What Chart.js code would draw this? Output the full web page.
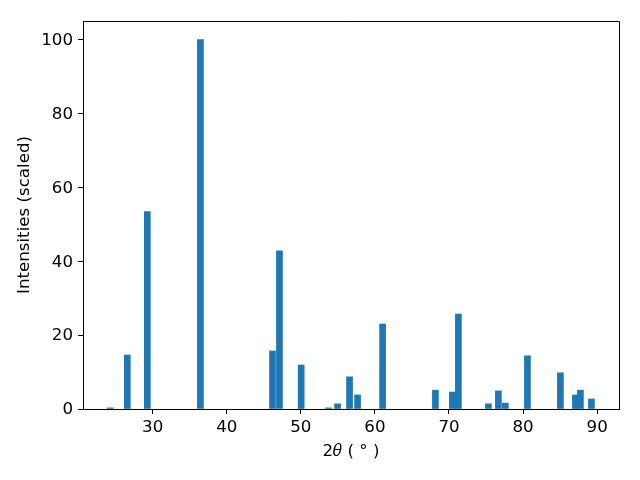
<!DOCTYPE html>
<html>
<head>
<meta charset="utf-8">
<script src="https://cdn.jsdelivr.net/npm/chart.js@4"></script>
<style>
  html, body { margin: 0; padding: 0; background: #fff; }
  #wrap { width: 640px; height: 480px; }
</style>
</head>
<body>
<div id="wrap"><canvas id="c" width="640" height="480"></canvas></div>
<script>
// 2-theta peak positions (degrees)
const twoTheta = [24.28, 26.58, 29.28, 36.45, 46.18, 47.12, 50.05, 53.74, 54.96, 56.58,
                  57.66, 61.04, 68.17, 70.46, 71.27, 75.32, 76.67, 77.61, 80.59, 85.04,
                  87.07, 87.74, 89.23];
// scaled intensities
const intensities = [0.3, 14.6, 53.4, 100.0, 15.7, 42.8, 11.9, 0.3, 1.4, 8.7,
                     3.8, 23.0, 5.1, 4.6, 25.7, 1.4, 4.9, 1.6, 14.4, 9.8,
                     3.8, 5.1, 2.7];
const xTicks = [30, 40, 50, 60, 70, 80, 90];
const yTicks = [0, 20, 40, 60, 80, 100];

const FONT = "'DejaVu Sans', sans-serif";
const FS = 16.67;
const points = twoTheta.map((x, i) => ({ x: x, y: intensities[i] }));

const framePlugin = {
  id: 'frame',
  afterDraw(chart) {
    const { ctx, chartArea: a } = chart;
    ctx.save();
    ctx.strokeStyle = '#000';
    ctx.lineWidth = 1;
    ctx.beginPath();
    ctx.moveTo(a.left, a.top + 0.5);
    ctx.lineTo(a.right + 0.5, a.top + 0.5);
    ctx.lineTo(a.right + 0.5, a.bottom);
    ctx.stroke();
    ctx.restore();
  }
};

new Chart(document.getElementById('c'), {
  type: 'bar',
  data: {
    datasets: [{
      data: points,
      backgroundColor: '#1f77b4',
      borderWidth: 0,
      barThickness: 6
    }]
  },
  plugins: [framePlugin],
  options: {
    responsive: false,
    animation: false,
    layout: { padding: { top: 21, right: 21, left: 0, bottom: 0 } },
    plugins: { legend: { display: false }, tooltip: { enabled: false } },
    scales: {
      x: {
        type: 'linear',
        offset: false,
        min: 20.6,
        max: 92.95,
        afterBuildTicks(scale) { scale.ticks = xTicks.map(v => ({ value: v })); },
        afterFit(scale) { scale.height = 71; },
        ticks: {
          color: '#000',
          font: { family: FONT, size: FS },
          padding: 4,
          maxRotation: 0,
          autoSkip: false
        },
        grid: { display: true, offset: false, drawOnChartArea: false, drawTicks: true, tickLength: 5, color: '#000', lineWidth: 1 },
        border: { display: true, color: '#000', width: 1 },
        title: {
          display: true,
          text: '2𝜃 ( ° )',
          color: '#000',
          font: { family: FONT, size: FS },
          padding: { top: 0, bottom: 18 }
        }
      },
      y: {
        type: 'linear',
        min: 0,
        max: 105,
        afterBuildTicks(scale) { scale.ticks = yTicks.map(v => ({ value: v })); },
        afterFit(scale) { scale.width = 83; },
        ticks: {
          color: '#000',
          font: { family: FONT, size: FS },
          padding: 5,
          labelOffset: 1
        },
        grid: { display: true, drawOnChartArea: false, drawTicks: true, tickLength: 5, color: '#000', lineWidth: 1 },
        border: { display: true, color: '#000', width: 1 },
        title: {
          display: true,
          text: 'Intensities (scaled)',
          color: '#000',
          font: { family: FONT, size: FS },
          padding: { top: 15, bottom: 0 }
        }
      }
    }
  }
});
</script>
</body>
</html>
